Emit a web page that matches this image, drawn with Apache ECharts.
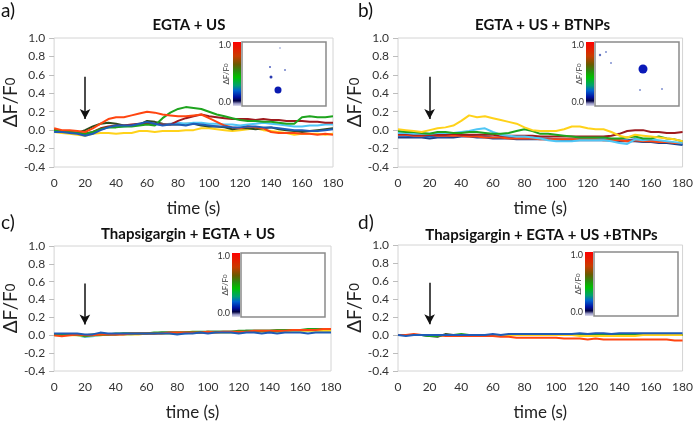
<!DOCTYPE html>
<html><head><meta charset="utf-8">
<script src="https://cdn.jsdelivr.net/npm/echarts@6/dist/echarts.min.js"></script>
<style>html,body{margin:0;padding:0;background:#fff}#c{width:696px;height:422px}</style>
</head><body><div id="c"></div>
<script>
// ---------- data ----------
const time = [0,5,10,15,20,25,30,35,40,45,50,55,60,65,70,75,80,85,90,95,100,105,110,115,120,125,130,135,140,145,150,155,160,165,170,175,180];
const xTicks = [0,20,40,60,80,100,120,140,160,180];
const yTicks = [-0.4,-0.2,0.0,0.2,0.4,0.6,0.8,1.0];
const titles = ['EGTA + US','EGTA + US + BTNPs','Thapsigargin + EGTA + US','Thapsigargin + EGTA + US +BTNPs'];
const letters = ['a)','b)','c)','d)'];
const arrowTime = 20, arrowTop = 0.58, arrowTip = 0.12;

// panel a
const a_yellow = [-0.02,-0.03,-0.04,-0.05,-0.06,-0.04,-0.03,-0.03,-0.04,-0.03,-0.03,-0.01,-0.01,-0.02,-0.01,-0.01,-0.01,0.0,0.0,0.02,0.02,0.01,0.0,-0.01,0.0,0.01,0.02,0.0,-0.01,-0.02,-0.03,-0.05,-0.04,-0.04,-0.04,-0.05,-0.04];
const a_olive  = [0.0,-0.01,-0.02,-0.03,0.0,0.04,0.07,0.08,0.07,0.05,0.05,0.06,0.1,0.09,0.07,0.06,0.06,0.07,0.07,0.05,0.04,0.04,0.03,0.01,0.02,0.02,0.01,0.02,0.03,0.01,0.0,-0.01,-0.02,-0.01,0.0,0.01,0.02];
const a_lblue  = [-0.01,-0.02,-0.02,-0.03,-0.05,-0.03,0.01,0.03,0.04,0.04,0.05,0.06,0.07,0.06,0.06,0.07,0.08,0.07,0.08,0.08,0.07,0.07,0.06,0.06,0.05,0.06,0.07,0.08,0.07,0.06,0.05,0.04,0.04,0.05,0.05,0.06,0.06];
const a_maroon = [0.0,-0.01,-0.02,-0.03,-0.04,-0.02,0.02,0.04,0.05,0.05,0.06,0.07,0.07,0.07,0.06,0.06,0.1,0.13,0.15,0.17,0.15,0.14,0.13,0.12,0.12,0.12,0.11,0.12,0.11,0.11,0.1,0.1,0.1,0.09,0.09,0.08,0.08];
const a_green  = [0.0,-0.01,-0.02,-0.03,-0.04,-0.02,0.01,0.03,0.03,0.04,0.04,0.05,0.06,0.05,0.13,0.19,0.23,0.25,0.24,0.23,0.2,0.17,0.15,0.13,0.11,0.1,0.1,0.09,0.09,0.08,0.07,0.07,0.14,0.15,0.14,0.14,0.15];
const a_red    = [0.02,0.0,0.0,-0.01,-0.02,0.02,0.07,0.12,0.14,0.14,0.16,0.18,0.2,0.19,0.17,0.16,0.15,0.15,0.16,0.17,0.13,0.09,0.05,0.03,0.02,0.04,0.03,0.02,-0.02,-0.03,-0.03,-0.03,-0.04,-0.04,-0.05,-0.04,-0.05];
const a_blue   = [-0.02,-0.02,-0.03,-0.04,-0.06,-0.04,0.0,0.03,0.05,0.05,0.05,0.07,0.09,0.07,0.05,0.06,0.06,0.05,0.07,0.06,0.05,0.04,0.04,0.03,0.03,0.04,0.04,0.03,0.03,0.02,0.01,0.0,0.0,-0.01,-0.01,0.0,0.01];

// panel b
const b_navy   = [-0.08,-0.08,-0.08,-0.08,-0.09,-0.08,-0.08,-0.08,-0.07,-0.07,-0.08,-0.08,-0.09,-0.09,-0.09,-0.1,-0.1,-0.1,-0.1,-0.1,-0.1,-0.11,-0.11,-0.11,-0.11,-0.11,-0.11,-0.11,-0.12,-0.12,-0.12,-0.13,-0.13,-0.14,-0.14,-0.15,-0.16];
const b_blue   = [-0.06,-0.06,-0.07,-0.07,-0.07,-0.07,-0.07,-0.06,-0.06,-0.06,-0.07,-0.07,-0.08,-0.08,-0.08,-0.09,-0.09,-0.09,-0.09,-0.09,-0.1,-0.1,-0.1,-0.1,-0.1,-0.1,-0.1,-0.11,-0.11,-0.11,-0.1,-0.11,-0.12,-0.12,-0.13,-0.14,-0.15];
const b_red    = [-0.05,-0.05,-0.06,-0.06,-0.05,-0.06,-0.06,-0.06,-0.06,-0.07,-0.07,-0.08,-0.08,-0.08,-0.09,-0.09,-0.09,-0.09,-0.1,-0.1,-0.1,-0.1,-0.1,-0.1,-0.1,-0.1,-0.11,-0.11,-0.11,-0.12,-0.11,-0.12,-0.12,-0.13,-0.13,-0.14,-0.14];
const b_maroon = [-0.04,-0.04,-0.05,-0.05,-0.05,-0.05,-0.05,-0.04,-0.05,-0.05,-0.05,-0.05,-0.05,-0.06,-0.06,-0.06,-0.06,-0.06,-0.07,-0.07,-0.07,-0.07,-0.07,-0.07,-0.07,-0.07,-0.07,-0.06,-0.04,-0.01,0.0,0.0,-0.02,-0.02,-0.03,-0.03,-0.02];
const b_lblue  = [-0.03,-0.03,-0.04,-0.04,-0.04,-0.03,-0.03,-0.03,-0.02,-0.01,0.01,0.02,-0.02,-0.05,-0.06,-0.07,-0.07,-0.08,-0.09,-0.11,-0.12,-0.12,-0.12,-0.11,-0.11,-0.11,-0.11,-0.12,-0.14,-0.15,-0.1,-0.11,-0.1,-0.11,-0.12,-0.13,-0.14];
const b_green  = [-0.01,-0.02,-0.02,-0.03,-0.04,-0.02,-0.02,-0.03,-0.03,-0.02,-0.02,-0.03,-0.04,-0.04,-0.03,-0.01,0.01,-0.01,-0.04,-0.04,-0.05,-0.06,-0.07,-0.08,-0.08,-0.08,-0.08,-0.09,-0.09,-0.08,-0.07,-0.09,-0.09,-0.07,-0.09,-0.1,-0.12];
const b_yellow = [0.01,0.0,-0.01,-0.02,0.0,0.02,0.03,0.05,0.1,0.16,0.14,0.15,0.13,0.11,0.09,0.07,0.03,0.0,-0.01,-0.01,-0.01,0.01,0.04,0.04,0.02,0.01,0.01,-0.02,-0.06,-0.08,-0.05,-0.06,-0.07,-0.08,-0.09,-0.1,-0.12];

// panel c
const c_lblue  = [0.0,0.0,0.01,0.0,-0.02,-0.01,0.0,0.01,0.01,0.01,0.01,0.02,0.02,0.02,0.02,0.02,0.02,0.02,0.03,0.03,0.03,0.03,0.03,0.03,0.03,0.04,0.04,0.04,0.04,0.04,0.04,0.04,0.05,0.05,0.05,0.05,0.05];
const c_yellow = [0.0,0.0,0.0,0.0,-0.01,0.0,0.0,0.01,0.01,0.01,0.01,0.01,0.02,0.02,0.02,0.02,0.02,0.03,0.03,0.03,0.03,0.03,0.03,0.03,0.04,0.04,0.04,0.04,0.04,0.04,0.04,0.05,0.05,0.05,0.05,0.05,0.05];
const c_olive  = [0.01,0.01,0.01,0.01,0.0,0.01,0.01,0.01,0.01,0.02,0.02,0.02,0.02,0.02,0.03,0.03,0.03,0.03,0.03,0.03,0.04,0.04,0.04,0.04,0.04,0.05,0.05,0.05,0.05,0.05,0.06,0.06,0.06,0.06,0.07,0.07,0.07];
const c_green  = [0.01,0.01,0.01,0.01,-0.01,0.0,0.01,0.01,0.02,0.02,0.02,0.02,0.02,0.03,0.03,0.03,0.03,0.03,0.04,0.04,0.04,0.04,0.04,0.04,0.05,0.05,0.05,0.05,0.05,0.06,0.06,0.06,0.06,0.07,0.07,0.07,0.07];
const c_red    = [0.0,-0.01,0.0,0.01,0.0,0.0,0.01,0.01,0.01,0.01,0.02,0.02,0.02,0.02,0.02,0.03,0.03,0.03,0.03,0.03,0.04,0.03,0.04,0.04,0.04,0.04,0.05,0.05,0.05,0.05,0.05,0.06,0.06,0.06,0.06,0.07,0.07];
const c_blue   = [0.02,0.02,0.02,0.02,0.01,0.01,0.03,0.02,0.02,0.02,0.02,0.02,0.02,0.02,0.02,0.02,0.01,0.02,0.02,0.03,0.02,0.03,0.03,0.03,0.02,0.03,0.03,0.02,0.03,0.02,0.03,0.03,0.03,0.02,0.03,0.03,0.03];

// panel d
const d_lblue  = [0.0,0.0,0.0,0.0,-0.01,0.0,0.0,0.0,0.0,0.0,0.0,0.0,0.0,0.0,0.0,0.0,0.0,0.0,0.0,0.0,0.0,0.0,0.0,0.0,0.0,0.0,0.0,0.0,0.0,0.0,0.0,0.0,0.0,0.0,0.0,0.0,0.0];
const d_olive  = [0.0,0.0,0.0,0.0,-0.01,-0.02,0.01,0.0,0.0,0.0,0.0,0.0,0.0,0.0,0.0,0.0,0.0,0.0,0.0,0.0,0.0,0.0,0.0,0.0,0.0,0.0,0.0,0.0,0.0,0.0,0.0,0.0,0.0,0.0,0.0,0.0,0.0];
const d_green  = [0.0,0.0,0.0,0.0,-0.01,-0.01,0.0,0.0,0.01,0.0,0.0,0.0,0.0,0.0,0.0,0.0,0.0,0.0,0.0,0.0,0.0,0.0,0.0,0.0,0.0,0.0,0.0,0.0,0.0,0.0,0.0,0.0,0.0,0.0,0.0,0.0,0.0];
const d_yellow = [0.0,0.0,0.0,0.0,0.0,0.0,0.0,0.0,0.0,0.0,0.0,0.0,0.0,0.0,0.0,0.0,0.0,0.0,0.0,0.0,0.0,0.0,0.0,-0.01,-0.01,-0.01,-0.01,-0.01,-0.01,-0.01,-0.01,0.0,0.0,0.0,0.0,0.0,0.0];
const d_red    = [0.0,0.0,0.01,0.0,0.0,0.0,-0.01,-0.01,-0.01,-0.01,-0.01,-0.01,-0.01,-0.02,-0.02,-0.03,-0.03,-0.03,-0.03,-0.03,-0.03,-0.04,-0.04,-0.04,-0.05,-0.04,-0.05,-0.05,-0.05,-0.05,-0.05,-0.05,-0.05,-0.05,-0.05,-0.06,-0.06];
const d_blue   = [0.0,-0.01,0.0,0.0,0.0,0.0,0.0,0.0,0.0,0.0,0.0,0.0,0.01,0.0,0.01,0.01,0.01,0.01,0.01,0.01,0.01,0.01,0.01,0.02,0.01,0.02,0.02,0.01,0.02,0.02,0.02,0.02,0.02,0.02,0.02,0.02,0.02];

// ---------- styling ----------
const COL = {red:'#ff4510', maroon:'#9e1a1e', green:'#1ea41e', olive:'#2f4c1c', blue:'#1f5cb8',
             lblue:'#4fc6f5', navy:'#1d3f86', yellow:'#ffd21a'};
const panels = [
  [['yellow',a_yellow],['olive',a_olive],['lblue',a_lblue],['maroon',a_maroon],['green',a_green],['red',a_red],['blue',a_blue]],
  [['navy',b_navy],['blue',b_blue],['red',b_red],['maroon',b_maroon],['lblue',b_lblue],['green',b_green],['yellow',b_yellow]],
  [['lblue',c_lblue],['yellow',c_yellow],['olive',c_olive],['green',c_green],['red',c_red],['blue',c_blue]],
  [['lblue',d_lblue],['olive',d_olive],['green',d_green],['yellow',d_yellow],['red',d_red],['blue',d_blue]]
];
const grids = [
  {left:45, top:38, width:288, height:129},
  {left:398, top:38, width:289, height:129},
  {left:45, top:246, width:286, height:131},
  {left:398, top:245, width:287, height:132}
];
const titleY = [25, 25, 234, 235];
const FONT = 'Lato, "Liberation Sans", sans-serif';

const chart = echarts.init(document.getElementById('c'), null, {renderer:'canvas'});
const xAxis = [], yAxis = [], series = [], graphic = [];
grids.forEach((g,i)=>{
  xAxis.push({gridIndex:i, type:'value', min:xTicks[0], max:xTicks[xTicks.length-1], interval:20,
    axisLine:{show:false}, axisTick:{show:false}, splitLine:{show:false},
    axisLabel:{fontSize:12, color:'#333', margin:10, fontFamily:FONT},
    name:'time (s)', nameLocation:'middle', nameGap:33,
    nameTextStyle:{fontSize:17, color:'#222', fontFamily:FONT}});
  yAxis.push({gridIndex:i, type:'value', min:yTicks[0], max:yTicks[yTicks.length-1], interval:0.2,
    axisLine:{show:false}, axisTick:{show:true, length:5, lineStyle:{color:'#bdbdbd'}}, splitLine:{show:false},
    axisLabel:{fontSize:12, color:'#333', margin:9, fontFamily:FONT,
      formatter:v=>Math.abs(v)<1e-9?'0.0':v.toFixed(1)},
    name:'{a|ΔF/F}{s|0}', nameLocation:'middle', nameGap:28, nameRotate:90,
    nameTextStyle:{color:'#222', fontFamily:FONT,
      rich:{a:{fontSize:19, fontFamily:FONT, color:'#222'}, s:{fontSize:13, fontFamily:FONT, color:'#222', lineHeight:10}}}});
  panels[i].forEach(([c,vals],k)=>{
    const s = {type:'line', xAxisIndex:i, yAxisIndex:i, showSymbol:false, symbol:'none',
      data: time.map((t,j)=>[t, vals[j]]), lineStyle:{width:2, color:COL[c]}, itemStyle:{color:COL[c]},
      silent:true, animation:false, z:2+k};
    if(k===0){
      s.markLine = {silent:true, symbol:['none','arrow'], symbolSize:[8,10], animation:false,
        label:{show:false}, lineStyle:{color:'#111', width:1.5, type:'solid'},
        data:[[{coord:[arrowTime, arrowTop]},{coord:[arrowTime, arrowTip]}]]};
    }
    series.push(s);
  });
  // title
  graphic.push({type:'text', x:g.left + g.width/2, y:titleY[i], silent:true,
    style:{text:titles[i], font:'bold 15px '+FONT, fill:'#111', textAlign:'center', textVerticalAlign:'middle'}});
});
// panel letters
[[0,0],[357,0],[0,212],[357,212]].forEach(([x,y],i)=>{
  graphic.push({type:'text', x:x+1, y:y+1, silent:true, style:{text:letters[i], font:'19px '+FONT, fill:'#111'}});
});
// insets (colorbar + image frame)
const insets = [[233,42,64],[586,42,64],[232,253,64],[585,252,64]];
insets.forEach(([x,y,h],i)=>{
  graphic.push({type:'rect', shape:{x:x, y:y, width:8, height:h}, silent:true,
    style:{fill:new echarts.graphic.LinearGradient(0,0,0,1,[
      {offset:0,color:'#ff0000'},{offset:0.22,color:'#c83c00'},{offset:0.35,color:'#6a5a00'},
      {offset:0.45,color:'#2a8a10'},{offset:0.55,color:'#00c000'},{offset:0.68,color:'#00a070'},
      {offset:0.76,color:'#0060d0'},{offset:0.86,color:'#0010a0'},{offset:0.92,color:'#000040'},
      {offset:0.96,color:'#9090c0'},{offset:1,color:'#e0e0f0'}])}});
  graphic.push({type:'rect', shape:{x:x+9, y:y, width:84, height:h}, silent:true,
    style:{fill:'#fff', stroke:'#8a8a8a', lineWidth:1.5}});
  graphic.push({type:'text', x:x-2, y:y+3, silent:true, style:{text:'1.0', font:'9px '+FONT, fill:'#333', textAlign:'right', textVerticalAlign:'middle'}});
  graphic.push({type:'text', x:x-2, y:y+h-4, silent:true, style:{text:'0.0', font:'9px '+FONT, fill:'#333', textAlign:'right', textVerticalAlign:'middle'}});
  graphic.push({type:'text', x:x-7, y:y+h/2, rotation:Math.PI/2, silent:true,
    style:{text:'{a|ΔF/F}{s|0}', textAlign:'center', textVerticalAlign:'middle',
      rich:{a:{fontSize:8, fontFamily:FONT, fill:'#333'}, s:{fontSize:6, fontFamily:FONT, fill:'#333'}}}});
});
// micrograph blobs inside insets (decorative image content)
const blobs = [
  [278,90,3.5,'#0a1ab0'],[271,77,1.5,'#2a3ab0'],[270,67,1,'#5060c0'],[285,70,1,'#7080c8'],[280,48,0.8,'#8090d0'],
  [643,69,4.5,'#0a1ab8'],[600,55,1.2,'#6070c0'],[611,63,1,'#8090d0'],[640,90,1,'#8090d0'],[662,89,1,'#8090d0'],[606,52,1,'#8090d0']
];
blobs.forEach(([x,y,r,c])=>graphic.push({type:'circle', shape:{cx:x, cy:y, r:r}, silent:true, style:{fill:c}}));

chart.setOption({
  animation:false,
  textStyle:{fontFamily:FONT},
  grid: grids.map(g=>Object.assign({show:true, borderColor:'#d4d4d4', borderWidth:1, backgroundColor:'transparent'}, g)),
  xAxis, yAxis, series, graphic
});
</script></body></html>
